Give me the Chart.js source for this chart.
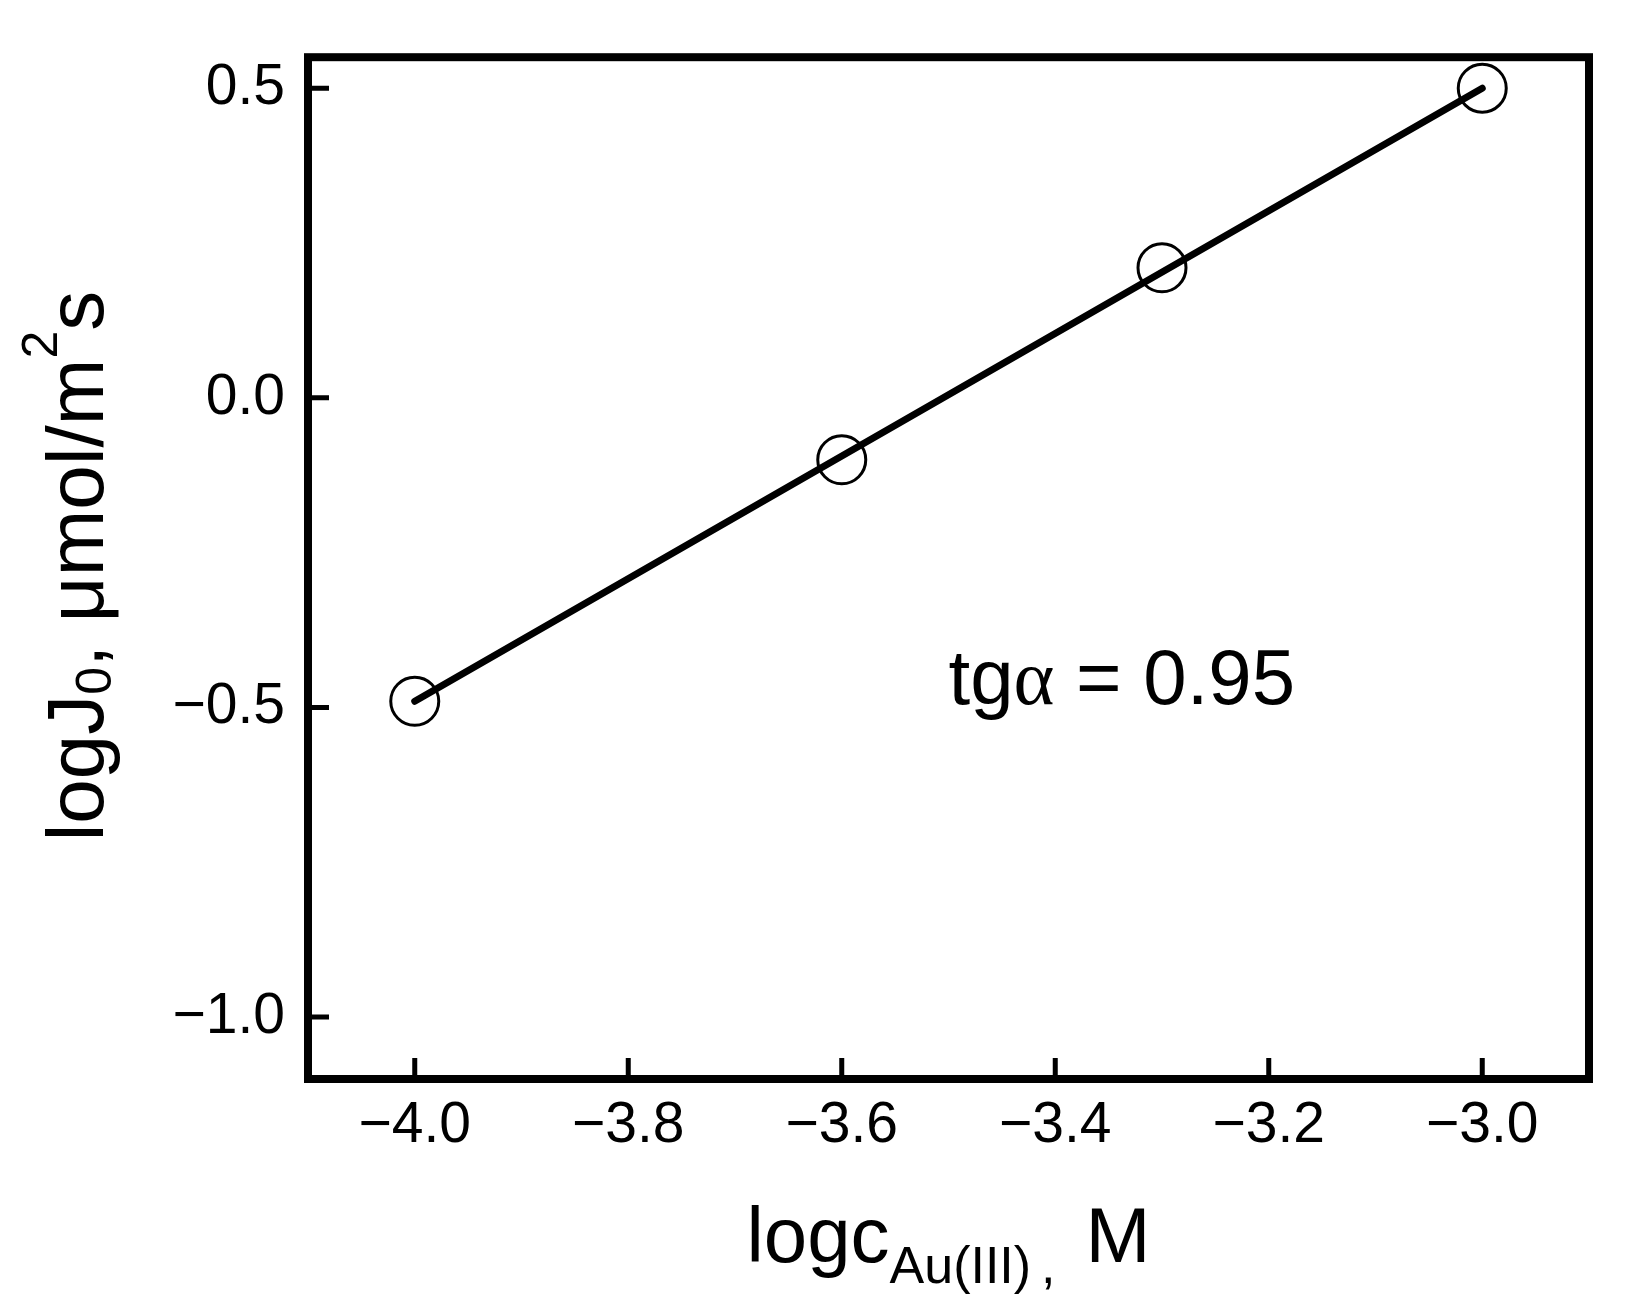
<!DOCTYPE html>
<html>
<head>
<meta charset="utf-8">
<title>logJ0 vs logc Au(III)</title>
<script src="https://cdn.jsdelivr.net/npm/chart.js@4.4.1/dist/chart.umd.min.js"></script>
<style>
  html, body { margin: 0; padding: 0; background: #fff; }
  #chart { display: block; }
</style>
</head>
<body>
<canvas id="chart" width="1626" height="1313"></canvas>
<script>
// values
const concLog = [-4.0, -3.6, -3.3, -3.0];      // logc Au(III), M
const fluxLog = [-0.49, -0.10, 0.21, 0.50];    // logJ0
const fitX = [-4.0, -3.0];                     // ends of the straight line
const fitY = [-0.49, 0.50];
const xTicks = [-4.0, -3.8, -3.6, -3.4, -3.2, -3.0];
const yTicks = [-1.0, -0.5, 0.0, 0.5];
const xRange = [-4.1, -2.9];
const yRange = [-1.1, 0.55];
const slopeText = ['tg', 'α', ' = 0.95'];

const FONT = '"Liberation Sans", Arial, sans-serif';
const fmt = v => v.toFixed(1).replace('-', '\u2212');

// text in pieces (sub/superscripts), centred on cx, on baseline by
const drawRich = (ctx, parts, cx, by) => {
    let total = 0;
    parts.forEach(p => {
        ctx.font = `${p.size}px ${p.family || FONT}`;
        p.w = ctx.measureText(p.t).width;
        total += p.w + (p.dx || 0);
    });
    let x = cx - total / 2;
    parts.forEach(p => {
        x += p.dx || 0;
        ctx.font = `${p.size}px ${p.family || FONT}`;
        ctx.fillText(p.t, x, by + (p.dy || 0));
        x += p.w;
    });
};

// box round the plot + inward tick marks
const framePlugin = {
    id: 'frame',
    afterDraw(chart) {
        const { ctx, chartArea: a, scales: { x, y } } = chart;
        ctx.save();
        ctx.strokeStyle = '#000';
        ctx.lineWidth = 5;
        ctx.beginPath();
        xTicks.forEach(v => {
            const px = x.getPixelForValue(v);
            ctx.moveTo(px, a.bottom);
            ctx.lineTo(px, a.bottom - 21);
        });
        yTicks.forEach(v => {
            const py = y.getPixelForValue(v);
            ctx.moveTo(a.left, py);
            ctx.lineTo(a.left + 21, py);
        });
        ctx.stroke();
        ctx.lineWidth = 8;
        ctx.strokeRect(a.left, a.top, a.right - a.left, a.bottom - a.top);
        ctx.restore();
    }
};

// axis titles and the slope note
const textPlugin = {
    id: 'texts',
    afterDraw(chart) {
        const { ctx, chartArea: a, scales: { x, y } } = chart;
        const cx = (a.left + a.right) / 2;
        const cy = (a.top + a.bottom) / 2;
        ctx.save();
        ctx.fillStyle = '#000';
        ctx.textBaseline = 'alphabetic';
        ctx.textAlign = 'left';

        drawRich(ctx, [
            { t: 'logc', size: 78 },
            { t: 'Au(III)', size: 52, dy: 21 },
            { t: ',', size: 52, dy: 21, dx: 10 },
            { t: 'M', size: 78, dx: 30 }
        ], cx, 1262);

        ctx.save();
        ctx.translate(103, cy - 2);
        ctx.rotate(-Math.PI / 2);
        drawRich(ctx, [
            { t: 'logJ', size: 80 },
            { t: '0', size: 50, dy: 8 },
            { t: ', μmol/m', size: 80 },
            { t: '2', size: 50, dy: -46 },
            { t: 's', size: 80 }
        ], 0, 0);
        ctx.restore();

        // slope note, placed in data units
        let tx = x.getPixelForValue(-3.5);
        const ty = y.getPixelForValue(-0.494);
        const fams = [FONT, '"Liberation Serif", serif', FONT];
        slopeText.forEach((t, i) => {
            ctx.font = `78px ${fams[i]}`;
            ctx.fillText(t, tx, ty);
            tx += ctx.measureText(t).width;
        });
        ctx.restore();
    }
};

const tickFont = { family: FONT, size: 57 };

new Chart(document.getElementById('chart'), {
    type: 'scatter',
    data: {
        datasets: [
            {
                label: 'fit',
                data: fitX.map((v, i) => ({ x: v, y: fitY[i] })),
                showLine: true,
                borderColor: '#000',
                borderWidth: 7,
                borderCapStyle: 'round',
                pointRadius: 0,
                clip: false
            },
            {
                label: 'logJ0',
                data: concLog.map((v, i) => ({ x: v, y: fluxLog[i] })),
                showLine: false,
                pointStyle: 'circle',
                pointRadius: 24,
                pointBorderWidth: 3,
                pointBorderColor: '#000',
                pointBackgroundColor: 'rgba(0,0,0,0)',
                clip: false
            }
        ]
    },
    options: {
        responsive: false,
        devicePixelRatio: 1,
        animation: false,
        events: [],
        layout: { padding: { left: 0, top: 42, right: 37, bottom: 0 } },
        plugins: {
            legend: { display: false },
            tooltip: { enabled: false }
        },
        scales: {
            x: {
                type: 'linear',
                min: xRange[0],
                max: xRange[1],
                afterBuildTicks: s => { s.ticks = xTicks.map(v => ({ value: v })); },
                afterFit: s => { s.height = 1313 - 1079; },
                grid: { display: false, drawTicks: false },
                border: { display: false },
                ticks: { font: tickFont, color: '#000', padding: 13, maxRotation: 0, callback: v => fmt(v) }
            },
            y: {
                type: 'linear',
                min: yRange[0],
                max: yRange[1],
                afterBuildTicks: s => { s.ticks = yTicks.map(v => ({ value: v })); },
                afterFit: s => { s.width = 308; },
                grid: { display: false, drawTicks: false },
                border: { display: false },
                ticks: { font: tickFont, color: '#000', padding: 23, callback: v => fmt(v) }
            }
        }
    },
    plugins: [framePlugin, textPlugin]
});
</script>
</body>
</html>
